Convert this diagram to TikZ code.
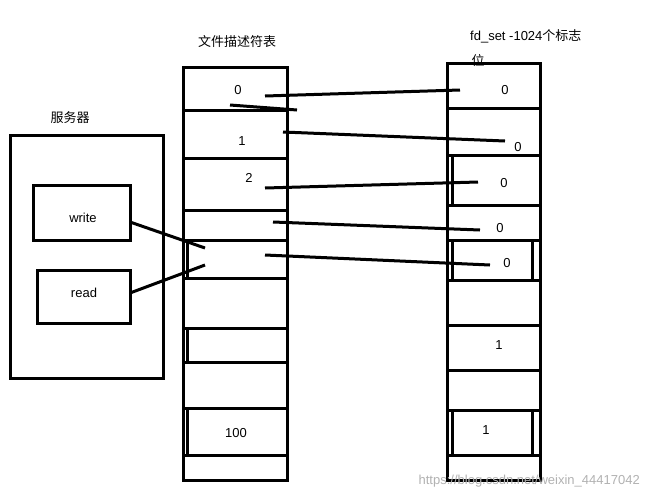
\documentclass[tikz,border=0pt]{standalone}
\usepackage{fontspec}
\setmainfont{Liberation Sans}
\newfontfamily\cjk{Noto Sans CJK SC}
\begin{document}
\begin{tikzpicture}[x=1pt,y=-1pt,
  thick line/.style={line width=3pt,black},
  lab/.style={font=\fontsize{13}{15}\selectfont,inner sep=0pt},
  cl/.style={font=\cjk\fontsize{13}{15}\selectfont,inner sep=0pt}]
\useasboundingbox (0,0) rectangle (649,499);
\fill[white] (0,0) rectangle (649,499);
% server
\node[cl] at (70,118) {服务器};
\draw[thick line] (10,135) rectangle (163,378);
\draw[thick line] (33,185) rectangle (130,240);
\node[lab] (w) at (83,218) {write};
\draw[thick line] (37,270) rectangle (130,323);
\node[lab] (r) at (84,293) {read};
% middle column
\node[cl] at (237,42) {文件描述符表};
\draw[thick line] (183,67) rectangle (287,480);
\foreach \y in {110,158,210,240,278,328,362,408,455}
  \draw[thick line] (183,\y) -- (287,\y);
\draw[thick line] (187,240) -- (187,278);
\draw[thick line] (187,328) -- (187,362);
\draw[thick line] (187,408) -- (187,455);
\node[lab] (m0) at (238,90) {0};
\node[lab] (m1) at (242,141) {1};
\node[lab] (m2) at (249,178) {2};
\node[lab] at (236,433) {100};
% right column
\node[lab,anchor=west] at (470,36) {fd\_set -1024\cjk 个标志};
\node[cl] at (478,60) {位};
\draw[thick line] (447,63) rectangle (540,480);
\foreach \y in {108,155,205,240,280,325,370,410,455}
  \draw[thick line] (447,\y) -- (540,\y);
\draw[thick line] (452,155) -- (452,205);
\draw[thick line] (452,240) -- (452,280) -- (532,280) -- (532,240);
\draw[thick line] (452,410) -- (452,455);
\draw[thick line] (532,410) -- (532,455);
\node[lab] (f0) at (505,90) {0};
\node[lab] (f1) at (518,147) {0};
\node[lab] (f2) at (504,183) {0};
\node[lab] (f3) at (500,228) {0};
\node[lab] (f4) at (507,263) {0};
\node[lab] at (499,345) {1};
\node[lab] at (486,430) {1};
% connectors
\coordinate (a0) at (265,96); \coordinate (b0) at (460,90);
\coordinate (a1) at (283,132); \coordinate (b1) at (505,141);
\coordinate (a2) at (265,188); \coordinate (b2) at (478,182);
\coordinate (a3) at (273,222); \coordinate (b3) at (480,230);
\coordinate (a4) at (265,255); \coordinate (b4) at (490,265);
\coordinate (s0) at (230,105); \coordinate (s1) at (297,110);
\foreach \i in {0,...,4} \draw[thick line] (a\i) -- (b\i);
\draw[thick line] (s0) -- (s1);
\coordinate (wr) at (130,222); \coordinate (wm) at (205,248);
\coordinate (rr) at (130,293); \coordinate (rm) at (205,265);
\draw[thick line] (wr) -- (wm);
\draw[thick line] (rr) -- (rm);
\node[lab,text=gray!60,anchor=east,font=\fontsize{13}{15}\selectfont] at (640,481) {https://blog.csdn.net/weixin\_44417042};
\end{tikzpicture}
\end{document}
